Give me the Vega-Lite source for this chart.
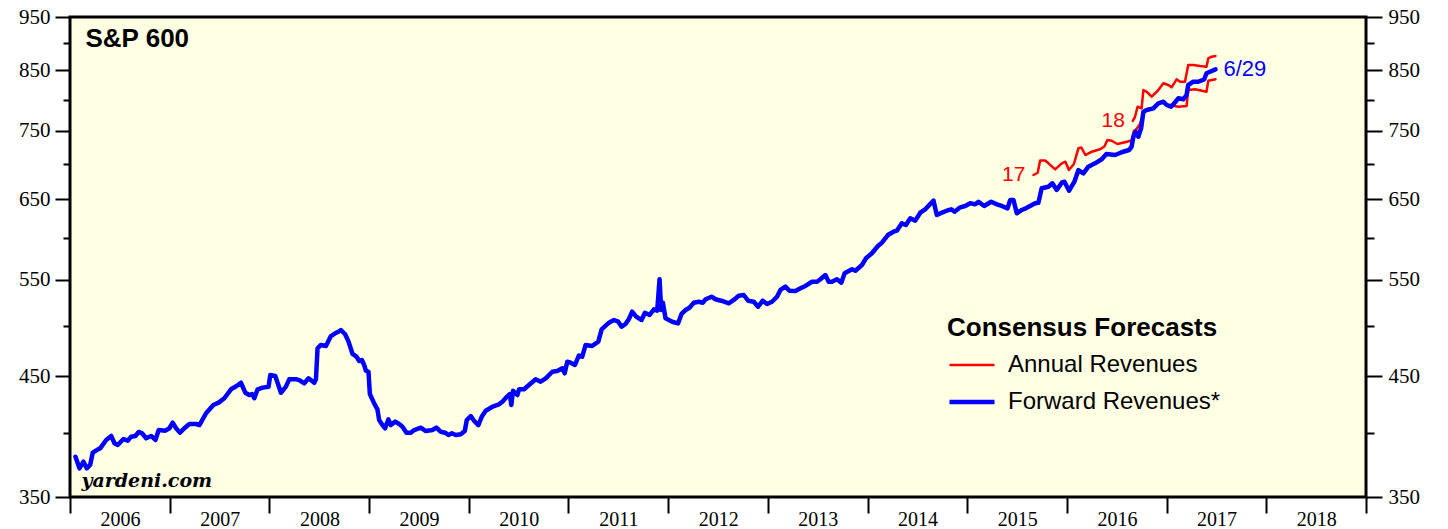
{
  "$schema": "https://vega.github.io/schema/vega-lite/v6.json",
  "width": 1296,
  "height": 480,
  "autosize": "none",
  "padding": {"left": 70, "top": 17, "right": 82, "bottom": 32},
  "background": "white",
  "datasets": {
    "forward": [
      {"series":"Forward Revenues*","t":2006.055,"v":380.6},{"series":"Forward Revenues*","t":2006.095,"v":371.5},{"series":"Forward Revenues*","t":2006.135,"v":376.7},{"series":"Forward Revenues*","t":2006.168,"v":371.5},{"series":"Forward Revenues*","t":2006.202,"v":374.1},{"series":"Forward Revenues*","t":2006.228,"v":383.8},{"series":"Forward Revenues*","t":2006.269,"v":385.9},{"series":"Forward Revenues*","t":2006.303,"v":387.3},{"series":"Forward Revenues*","t":2006.363,"v":394.1},{"series":"Forward Revenues*","t":2006.413,"v":397.4},{"series":"Forward Revenues*","t":2006.446,"v":391.4},{"series":"Forward Revenues*","t":2006.479,"v":390.0},{"series":"Forward Revenues*","t":2006.536,"v":394.9},{"series":"Forward Revenues*","t":2006.579,"v":393.5},{"series":"Forward Revenues*","t":2006.613,"v":396.8},{"series":"Forward Revenues*","t":2006.656,"v":397.4},{"series":"Forward Revenues*","t":2006.689,"v":400.7},{"series":"Forward Revenues*","t":2006.723,"v":399.6},{"series":"Forward Revenues*","t":2006.764,"v":395.5},{"series":"Forward Revenues*","t":2006.814,"v":397.4},{"series":"Forward Revenues*","t":2006.857,"v":394.1},{"series":"Forward Revenues*","t":2006.890,"v":402.3},{"series":"Forward Revenues*","t":2006.957,"v":401.8},{"series":"Forward Revenues*","t":2006.997,"v":403.8},
      {"series":"Forward Revenues*","t":2007.030,"v":408.5},{"series":"Forward Revenues*","t":2007.064,"v":403.8},{"series":"Forward Revenues*","t":2007.104,"v":400.1},{"series":"Forward Revenues*","t":2007.147,"v":403.8},{"series":"Forward Revenues*","t":2007.197,"v":407.4},{"series":"Forward Revenues*","t":2007.265,"v":407.4},{"series":"Forward Revenues*","t":2007.298,"v":406.5},{"series":"Forward Revenues*","t":2007.365,"v":416.6},{"series":"Forward Revenues*","t":2007.438,"v":423.8},{"series":"Forward Revenues*","t":2007.491,"v":425.9},{"series":"Forward Revenues*","t":2007.548,"v":429.8},{"series":"Forward Revenues*","t":2007.615,"v":437.9},{"series":"Forward Revenues*","t":2007.671,"v":440.9},{"series":"Forward Revenues*","t":2007.715,"v":443.9},{"series":"Forward Revenues*","t":2007.758,"v":434.8},{"series":"Forward Revenues*","t":2007.799,"v":432.7},{"series":"Forward Revenues*","t":2007.826,"v":433.6},{"series":"Forward Revenues*","t":2007.849,"v":429.8},{"series":"Forward Revenues*","t":2007.882,"v":437.9},{"series":"Forward Revenues*","t":2007.932,"v":439.4},{"series":"Forward Revenues*","t":2007.992,"v":440.3},
      {"series":"Forward Revenues*","t":2008.009,"v":451.1},{"series":"Forward Revenues*","t":2008.059,"v":450.2},{"series":"Forward Revenues*","t":2008.116,"v":434.8},{"series":"Forward Revenues*","t":2008.166,"v":440.3},{"series":"Forward Revenues*","t":2008.199,"v":447.1},{"series":"Forward Revenues*","t":2008.273,"v":447.1},{"series":"Forward Revenues*","t":2008.300,"v":446.4},{"series":"Forward Revenues*","t":2008.350,"v":443.4},{"series":"Forward Revenues*","t":2008.393,"v":448.0},{"series":"Forward Revenues*","t":2008.450,"v":443.9},{"series":"Forward Revenues*","t":2008.467,"v":447.1},{"series":"Forward Revenues*","t":2008.483,"v":476.9},{"series":"Forward Revenues*","t":2008.517,"v":480.2},{"series":"Forward Revenues*","t":2008.567,"v":479.2},{"series":"Forward Revenues*","t":2008.617,"v":489.2},{"series":"Forward Revenues*","t":2008.660,"v":492.0},{"series":"Forward Revenues*","t":2008.693,"v":493.6},{"series":"Forward Revenues*","t":2008.717,"v":495.4},{"series":"Forward Revenues*","t":2008.760,"v":491.0},{"series":"Forward Revenues*","t":2008.794,"v":483.5},{"series":"Forward Revenues*","t":2008.834,"v":471.3},{"series":"Forward Revenues*","t":2008.874,"v":468.6},{"series":"Forward Revenues*","t":2008.901,"v":464.4},{"series":"Forward Revenues*","t":2008.928,"v":465.4},{"series":"Forward Revenues*","t":2008.951,"v":460.6},{"series":"Forward Revenues*","t":2008.968,"v":455.2},{"series":"Forward Revenues*","t":2008.994,"v":454.2},
      {"series":"Forward Revenues*","t":2009.008,"v":433.6},{"series":"Forward Revenues*","t":2009.051,"v":425.3},{"series":"Forward Revenues*","t":2009.084,"v":420.0},{"series":"Forward Revenues*","t":2009.101,"v":410.8},{"series":"Forward Revenues*","t":2009.134,"v":406.5},{"series":"Forward Revenues*","t":2009.161,"v":403.8},{"series":"Forward Revenues*","t":2009.194,"v":411.4},{"series":"Forward Revenues*","t":2009.218,"v":406.5},{"series":"Forward Revenues*","t":2009.262,"v":409.4},{"series":"Forward Revenues*","t":2009.302,"v":407.4},{"series":"Forward Revenues*","t":2009.335,"v":405.1},{"series":"Forward Revenues*","t":2009.375,"v":400.1},{"series":"Forward Revenues*","t":2009.419,"v":400.1},{"series":"Forward Revenues*","t":2009.452,"v":402.3},{"series":"Forward Revenues*","t":2009.519,"v":404.3},{"series":"Forward Revenues*","t":2009.569,"v":401.5},{"series":"Forward Revenues*","t":2009.635,"v":402.3},{"series":"Forward Revenues*","t":2009.675,"v":404.3},{"series":"Forward Revenues*","t":2009.719,"v":400.9},{"series":"Forward Revenues*","t":2009.763,"v":400.1},{"series":"Forward Revenues*","t":2009.796,"v":398.2},{"series":"Forward Revenues*","t":2009.830,"v":399.6},{"series":"Forward Revenues*","t":2009.870,"v":398.2},{"series":"Forward Revenues*","t":2009.920,"v":398.8},{"series":"Forward Revenues*","t":2009.960,"v":401.5},{"series":"Forward Revenues*","t":2009.980,"v":410.8},
      {"series":"Forward Revenues*","t":2010.020,"v":414.2},{"series":"Forward Revenues*","t":2010.053,"v":410.2},{"series":"Forward Revenues*","t":2010.096,"v":406.5},{"series":"Forward Revenues*","t":2010.130,"v":413.6},{"series":"Forward Revenues*","t":2010.170,"v":418.8},{"series":"Forward Revenues*","t":2010.210,"v":420.9},{"series":"Forward Revenues*","t":2010.253,"v":422.9},{"series":"Forward Revenues*","t":2010.304,"v":424.4},{"series":"Forward Revenues*","t":2010.337,"v":426.7},{"series":"Forward Revenues*","t":2010.377,"v":430.7},{"series":"Forward Revenues*","t":2010.411,"v":433.6},{"series":"Forward Revenues*","t":2010.427,"v":423.8},{"series":"Forward Revenues*","t":2010.444,"v":436.6},{"series":"Forward Revenues*","t":2010.487,"v":432.7},{"series":"Forward Revenues*","t":2010.504,"v":437.9},{"series":"Forward Revenues*","t":2010.554,"v":437.9},{"series":"Forward Revenues*","t":2010.604,"v":441.8},{"series":"Forward Revenues*","t":2010.671,"v":447.1},{"series":"Forward Revenues*","t":2010.721,"v":444.9},{"series":"Forward Revenues*","t":2010.772,"v":448.0},{"series":"Forward Revenues*","t":2010.838,"v":454.2},{"series":"Forward Revenues*","t":2010.888,"v":454.9},{"series":"Forward Revenues*","t":2010.938,"v":457.4},{"series":"Forward Revenues*","t":2010.962,"v":452.7},{"series":"Forward Revenues*","t":2010.988,"v":463.8},
      {"series":"Forward Revenues*","t":2011.022,"v":462.8},{"series":"Forward Revenues*","t":2011.065,"v":460.6},{"series":"Forward Revenues*","t":2011.105,"v":469.8},{"series":"Forward Revenues*","t":2011.138,"v":468.6},{"series":"Forward Revenues*","t":2011.172,"v":480.2},{"series":"Forward Revenues*","t":2011.238,"v":479.2},{"series":"Forward Revenues*","t":2011.299,"v":483.5},{"series":"Forward Revenues*","t":2011.333,"v":496.1},{"series":"Forward Revenues*","t":2011.406,"v":503.0},{"series":"Forward Revenues*","t":2011.456,"v":505.8},{"series":"Forward Revenues*","t":2011.499,"v":504.0},{"series":"Forward Revenues*","t":2011.533,"v":498.8},{"series":"Forward Revenues*","t":2011.573,"v":501.6},{"series":"Forward Revenues*","t":2011.606,"v":506.9},{"series":"Forward Revenues*","t":2011.639,"v":514.6},{"series":"Forward Revenues*","t":2011.679,"v":509.3},{"series":"Forward Revenues*","t":2011.733,"v":505.8},{"series":"Forward Revenues*","t":2011.767,"v":513.5},{"series":"Forward Revenues*","t":2011.814,"v":511.1},{"series":"Forward Revenues*","t":2011.857,"v":517.2},{"series":"Forward Revenues*","t":2011.890,"v":515.7},{"series":"Forward Revenues*","t":2011.914,"v":550.5},{"series":"Forward Revenues*","t":2011.930,"v":516.4},{"series":"Forward Revenues*","t":2011.947,"v":524.3},{"series":"Forward Revenues*","t":2011.974,"v":507.6},
      {"series":"Forward Revenues*","t":2012.040,"v":504.0},{"series":"Forward Revenues*","t":2012.100,"v":502.3},{"series":"Forward Revenues*","t":2012.134,"v":512.2},{"series":"Forward Revenues*","t":2012.174,"v":516.4},{"series":"Forward Revenues*","t":2012.214,"v":518.9},{"series":"Forward Revenues*","t":2012.257,"v":524.3},{"series":"Forward Revenues*","t":2012.307,"v":525.4},{"series":"Forward Revenues*","t":2012.348,"v":524.3},{"series":"Forward Revenues*","t":2012.375,"v":528.1},{"series":"Forward Revenues*","t":2012.435,"v":530.9},{"series":"Forward Revenues*","t":2012.475,"v":528.1},{"series":"Forward Revenues*","t":2012.541,"v":526.2},{"series":"Forward Revenues*","t":2012.608,"v":523.7},{"series":"Forward Revenues*","t":2012.658,"v":527.3},{"series":"Forward Revenues*","t":2012.708,"v":532.0},{"series":"Forward Revenues*","t":2012.758,"v":532.8},{"series":"Forward Revenues*","t":2012.802,"v":526.5},{"series":"Forward Revenues*","t":2012.859,"v":525.4},{"series":"Forward Revenues*","t":2012.902,"v":520.0},{"series":"Forward Revenues*","t":2012.949,"v":526.5},{"series":"Forward Revenues*","t":2012.992,"v":522.9},
      {"series":"Forward Revenues*","t":2013.042,"v":525.4},{"series":"Forward Revenues*","t":2013.092,"v":530.9},{"series":"Forward Revenues*","t":2013.126,"v":538.4},{"series":"Forward Revenues*","t":2013.176,"v":542.1},{"series":"Forward Revenues*","t":2013.216,"v":537.6},{"series":"Forward Revenues*","t":2013.277,"v":537.3},{"series":"Forward Revenues*","t":2013.327,"v":540.3},{"series":"Forward Revenues*","t":2013.377,"v":542.9},{"series":"Forward Revenues*","t":2013.443,"v":547.7},{"series":"Forward Revenues*","t":2013.493,"v":547.7},{"series":"Forward Revenues*","t":2013.527,"v":550.5},{"series":"Forward Revenues*","t":2013.577,"v":555.4},{"series":"Forward Revenues*","t":2013.610,"v":547.7},{"series":"Forward Revenues*","t":2013.643,"v":547.7},{"series":"Forward Revenues*","t":2013.693,"v":550.5},{"series":"Forward Revenues*","t":2013.737,"v":546.6},{"series":"Forward Revenues*","t":2013.770,"v":557.4},{"series":"Forward Revenues*","t":2013.844,"v":562.1},{"series":"Forward Revenues*","t":2013.878,"v":560.4},{"series":"Forward Revenues*","t":2013.944,"v":567.1},{"series":"Forward Revenues*","t":2013.984,"v":575.1},
      {"series":"Forward Revenues*","t":2014.044,"v":581.1},{"series":"Forward Revenues*","t":2014.104,"v":590.0},{"series":"Forward Revenues*","t":2014.144,"v":594.0},{"series":"Forward Revenues*","t":2014.204,"v":603.6},{"series":"Forward Revenues*","t":2014.261,"v":607.8},{"series":"Forward Revenues*","t":2014.294,"v":609.1},{"series":"Forward Revenues*","t":2014.344,"v":618.5},{"series":"Forward Revenues*","t":2014.385,"v":616.3},{"series":"Forward Revenues*","t":2014.429,"v":625.0},{"series":"Forward Revenues*","t":2014.479,"v":621.9},{"series":"Forward Revenues*","t":2014.529,"v":632.3},{"series":"Forward Revenues*","t":2014.579,"v":636.8},{"series":"Forward Revenues*","t":2014.662,"v":648.3},{"series":"Forward Revenues*","t":2014.695,"v":629.3},{"series":"Forward Revenues*","t":2014.745,"v":632.3},{"series":"Forward Revenues*","t":2014.795,"v":634.9},{"series":"Forward Revenues*","t":2014.840,"v":636.8},{"series":"Forward Revenues*","t":2014.873,"v":633.6},{"series":"Forward Revenues*","t":2014.930,"v":639.4},{"series":"Forward Revenues*","t":2014.980,"v":641.2},
      {"series":"Forward Revenues*","t":2015.030,"v":644.8},{"series":"Forward Revenues*","t":2015.080,"v":643.4},{"series":"Forward Revenues*","t":2015.113,"v":646.9},{"series":"Forward Revenues*","t":2015.170,"v":641.2},{"series":"Forward Revenues*","t":2015.240,"v":646.9},{"series":"Forward Revenues*","t":2015.296,"v":643.4},{"series":"Forward Revenues*","t":2015.347,"v":641.2},{"series":"Forward Revenues*","t":2015.404,"v":638.1},{"series":"Forward Revenues*","t":2015.431,"v":649.2},{"series":"Forward Revenues*","t":2015.464,"v":649.2},{"series":"Forward Revenues*","t":2015.497,"v":631.5},{"series":"Forward Revenues*","t":2015.547,"v":635.9},{"series":"Forward Revenues*","t":2015.587,"v":638.1},{"series":"Forward Revenues*","t":2015.631,"v":641.2},{"series":"Forward Revenues*","t":2015.681,"v":644.8},{"series":"Forward Revenues*","t":2015.714,"v":645.6},{"series":"Forward Revenues*","t":2015.747,"v":665.2},{"series":"Forward Revenues*","t":2015.814,"v":667.4},{"series":"Forward Revenues*","t":2015.854,"v":672.2},{"series":"Forward Revenues*","t":2015.898,"v":662.9},{"series":"Forward Revenues*","t":2015.948,"v":673.0},{"series":"Forward Revenues*","t":2015.975,"v":674.4},
      {"series":"Forward Revenues*","t":2016.022,"v":661.9},{"series":"Forward Revenues*","t":2016.075,"v":674.4},{"series":"Forward Revenues*","t":2016.115,"v":691.0},{"series":"Forward Revenues*","t":2016.165,"v":686.3},{"series":"Forward Revenues*","t":2016.215,"v":695.8},{"series":"Forward Revenues*","t":2016.282,"v":700.7},{"series":"Forward Revenues*","t":2016.349,"v":706.6},{"series":"Forward Revenues*","t":2016.396,"v":714.4},{"series":"Forward Revenues*","t":2016.483,"v":712.9},{"series":"Forward Revenues*","t":2016.556,"v":717.4},{"series":"Forward Revenues*","t":2016.623,"v":720.4},{"series":"Forward Revenues*","t":2016.649,"v":725.3},{"series":"Forward Revenues*","t":2016.666,"v":740.1},{"series":"Forward Revenues*","t":2016.689,"v":748.3},{"series":"Forward Revenues*","t":2016.716,"v":740.6},{"series":"Forward Revenues*","t":2016.744,"v":753.6},{"series":"Forward Revenues*","t":2016.767,"v":780.1},{"series":"Forward Revenues*","t":2016.800,"v":782.9},{"series":"Forward Revenues*","t":2016.867,"v":785.6},{"series":"Forward Revenues*","t":2016.917,"v":793.9},{"series":"Forward Revenues*","t":2016.967,"v":796.5},
      {"series":"Forward Revenues*","t":2017.000,"v":791.1},{"series":"Forward Revenues*","t":2017.044,"v":788.3},{"series":"Forward Revenues*","t":2017.090,"v":796.5},{"series":"Forward Revenues*","t":2017.117,"v":802.2},{"series":"Forward Revenues*","t":2017.167,"v":800.5},{"series":"Forward Revenues*","t":2017.200,"v":807.7},{"series":"Forward Revenues*","t":2017.217,"v":824.7},{"series":"Forward Revenues*","t":2017.267,"v":830.3},{"series":"Forward Revenues*","t":2017.317,"v":830.3},{"series":"Forward Revenues*","t":2017.377,"v":834.5},{"series":"Forward Revenues*","t":2017.400,"v":845.0},{"series":"Forward Revenues*","t":2017.435,"v":847.8},{"series":"Forward Revenues*","t":2017.490,"v":852.0}
    ],
    "annual": [
      {"series":"Annual Revenues","year":"17","t":2015.664,"v":683.9},{"series":"Annual Revenues","year":"17","t":2015.707,"v":687.1},{"series":"Annual Revenues","year":"17","t":2015.731,"v":704.8},{"series":"Annual Revenues","year":"17","t":2015.782,"v":704.8},{"series":"Annual Revenues","year":"17","t":2015.815,"v":700.7},{"series":"Annual Revenues","year":"17","t":2015.882,"v":692.0},{"series":"Annual Revenues","year":"17","t":2015.948,"v":700.7},{"series":"Annual Revenues","year":"17","t":2015.985,"v":703.1},{"series":"Annual Revenues","year":"17","t":2016.020,"v":691.0},{"series":"Annual Revenues","year":"17","t":2016.070,"v":699.7},{"series":"Annual Revenues","year":"17","t":2016.115,"v":722.9},{"series":"Annual Revenues","year":"17","t":2016.145,"v":724.1},{"series":"Annual Revenues","year":"17","t":2016.185,"v":712.9},{"series":"Annual Revenues","year":"17","t":2016.249,"v":717.8},{"series":"Annual Revenues","year":"17","t":2016.333,"v":721.4},{"series":"Annual Revenues","year":"17","t":2016.376,"v":725.6},{"series":"Annual Revenues","year":"17","t":2016.406,"v":735.5},{"series":"Annual Revenues","year":"17","t":2016.449,"v":734.4},{"series":"Annual Revenues","year":"17","t":2016.506,"v":729.4},{"series":"Annual Revenues","year":"17","t":2016.583,"v":732.2},{"series":"Annual Revenues","year":"17","t":2016.649,"v":734.7},{"series":"Annual Revenues","year":"17","t":2016.671,"v":749.4},{"series":"Annual Revenues","year":"17","t":2016.699,"v":752.5},{"series":"Annual Revenues","year":"17","t":2016.733,"v":760.4},{"series":"Annual Revenues","year":"17","t":2016.756,"v":772.0},{"series":"Annual Revenues","year":"17","t":2016.784,"v":782.1},{"series":"Annual Revenues","year":"17","t":2016.867,"v":785.6},{"series":"Annual Revenues","year":"17","t":2016.917,"v":793.9},{"series":"Annual Revenues","year":"17","t":2016.967,"v":796.5},{"series":"Annual Revenues","year":"17","t":2017.000,"v":791.1},{"series":"Annual Revenues","year":"17","t":2017.034,"v":791.1},{"series":"Annual Revenues","year":"17","t":2017.117,"v":788.3},{"series":"Annual Revenues","year":"17","t":2017.200,"v":789.4},{"series":"Annual Revenues","year":"17","t":2017.217,"v":816.1},{"series":"Annual Revenues","year":"17","t":2017.285,"v":817.3},{"series":"Annual Revenues","year":"17","t":2017.400,"v":813.2},{"series":"Annual Revenues","year":"17","t":2017.418,"v":832.1},{"series":"Annual Revenues","year":"17","t":2017.490,"v":834.5},
      {"series":"Annual Revenues","year":"18","t":2016.661,"v":765.2},{"series":"Annual Revenues","year":"18","t":2016.681,"v":770.8},{"series":"Annual Revenues","year":"18","t":2016.709,"v":788.3},{"series":"Annual Revenues","year":"18","t":2016.749,"v":785.6},{"series":"Annual Revenues","year":"18","t":2016.767,"v":816.1},{"series":"Annual Revenues","year":"18","t":2016.800,"v":813.2},{"series":"Annual Revenues","year":"18","t":2016.850,"v":804.8},{"series":"Annual Revenues","year":"18","t":2016.917,"v":816.1},{"series":"Annual Revenues","year":"18","t":2016.967,"v":827.6},{"series":"Annual Revenues","year":"18","t":2017.017,"v":824.7},{"series":"Annual Revenues","year":"18","t":2017.050,"v":820.7},{"series":"Annual Revenues","year":"18","t":2017.100,"v":834.5},{"series":"Annual Revenues","year":"18","t":2017.134,"v":830.3},{"series":"Annual Revenues","year":"18","t":2017.184,"v":830.3},{"series":"Annual Revenues","year":"18","t":2017.217,"v":859.7},{"series":"Annual Revenues","year":"18","t":2017.267,"v":859.7},{"series":"Annual Revenues","year":"18","t":2017.335,"v":857.9},{"series":"Annual Revenues","year":"18","t":2017.400,"v":856.7},{"series":"Annual Revenues","year":"18","t":2017.418,"v":871.8},{"series":"Annual Revenues","year":"18","t":2017.451,"v":874.7},{"series":"Annual Revenues","year":"18","t":2017.490,"v":875.9}
    ]
  },
  "layer": [
    {
      "data": {"name": "annual"},
      "mark": {"type": "line", "strokeJoin": "round", "strokeCap": "round"},
      "encoding": {
        "x": {"field": "t", "type": "quantitative",
              "scale": {"domain": [2006, 2019], "nice": false, "zero": false},
              "axis": {"values": [2006,2007,2008,2009,2010,2011,2012,2013,2014,2015,2016,2017,2018,2019],
                       "labelExpr": "datum.value < 2019 ? format(datum.value, 'd') : ''",
                       "labelOffset": 50, "labelFlush": false, "labelOverlap": false, "labelBound": false,
                       "tickSize": 16, "tickWidth": 2, "tickColor": "black",
                       "labelPadding": -4, "labelFont": "Liberation Serif", "labelFontSize": 20, "labelColor": "black",
                       "domain": false, "grid": false, "title": null}},
        "y": {"field": "v", "type": "quantitative",
              "scale": {"type": "log", "domain": [350, 950], "nice": false, "zero": false},
              "axis": {"orient": "left", "values": [350,400,450,500,550,600,650,700,750,800,850,900,950],
                       "labelExpr": "datum.value % 100 == 50 ? format(datum.value, 'd') : ''",
                       "tickSize": {"condition": {"test": "datum.value % 100 == 50", "value": 15}, "value": 7},
                       "tickWidth": 2, "tickColor": "black", "labelPadding": 5,
                       "labelFont": "Liberation Serif", "labelFontSize": 21, "labelColor": "black",
                       "labelOverlap": false, "labelFlush": false, "labelBound": false,
                       "domain": false, "grid": false, "title": null}},
        "color": {"field": "series", "type": "nominal",
                  "scale": {"domain": ["Annual Revenues", "Forward Revenues*"], "range": ["#FF0000", "#0000FF"]},
                  "legend": {"title": "Consensus Forecasts"}},
        "strokeWidth": {"field": "series", "type": "nominal",
                  "scale": {"domain": ["Annual Revenues", "Forward Revenues*"], "range": [2.5, 4.5]},
                  "legend": {"title": "Consensus Forecasts"}},
        "detail": {"field": "year"}
      }
    },
    {
      "data": {"name": "forward"},
      "mark": {"type": "line", "strokeJoin": "round", "strokeCap": "round"},
      "encoding": {
        "x": {"field": "t", "type": "quantitative"},
        "y": {"field": "v", "type": "quantitative",
              "axis": {"orient": "right", "values": [350,400,450,500,550,600,650,700,750,800,850,900,950],
                       "labelExpr": "datum.value % 100 == 50 ? format(datum.value, 'd') : ''",
                       "tickSize": {"condition": {"test": "datum.value % 100 == 50", "value": 16}, "value": 8},
                       "tickWidth": 2, "tickColor": "black", "labelPadding": 6,
                       "labelFont": "Liberation Serif", "labelFontSize": 21, "labelColor": "black",
                       "labelOverlap": false, "labelFlush": false, "labelBound": false,
                       "domain": false, "grid": false, "title": null}},
        "color": {"field": "series", "type": "nominal", "legend": {"title": "Consensus Forecasts"}},
        "strokeWidth": {"field": "series", "type": "nominal", "legend": {"title": "Consensus Forecasts"}}
      }
    },
    {
      "data": {"name": "annual"},
      "transform": [{"aggregate": [{"op": "argmin", "field": "t", "as": "first"}], "groupby": ["year"]}],
      "mark": {"type": "text", "align": "right", "baseline": "middle", "dx": -8, "font": "Liberation Sans", "fontSize": 21, "color": "#FF0000"},
      "encoding": {
        "x": {"field": "first.t", "type": "quantitative"},
        "y": {"field": "first.v", "type": "quantitative", "axis": null},
        "text": {"field": "year"}
      }
    },
    {
      "data": {"name": "forward"},
      "transform": [{"aggregate": [{"op": "argmax", "field": "t", "as": "last"}]}],
      "mark": {"type": "text", "align": "left", "baseline": "middle", "dx": 8, "font": "Liberation Sans", "fontSize": 22, "color": "#0000FF"},
      "encoding": {
        "x": {"field": "last.t", "type": "quantitative"},
        "y": {"field": "last.v", "type": "quantitative", "axis": null},
        "text": {"value": "6/29"}
      }
    },
    {
      "data": {"values": [{}]},
      "mark": {"type": "text", "align": "left", "baseline": "alphabetic", "font": "Liberation Sans", "fontSize": 26, "fontWeight": "bold", "color": "black"},
      "encoding": {
        "x": {"datum": 2006.155, "type": "quantitative"},
        "y": {"datum": 892.5, "type": "quantitative", "axis": null},
        "text": {"value": "S&P 600"}
      }
    },
    {
      "data": {"values": [{}]},
      "mark": {"type": "text", "align": "left", "baseline": "alphabetic", "font": "DejaVu Serif", "fontSize": 19, "fontStyle": "italic", "fontWeight": "bold", "color": "black"},
      "encoding": {
        "x": {"datum": 2006.115, "type": "quantitative"},
        "y": {"datum": 357.1, "type": "quantitative", "axis": null},
        "text": {"value": "yardeni.com"}
      }
    }
  ],
  "resolve": {"axis": {"y": "independent"}},
  "config": {
    "view": {"fill": "#FFFFE4", "stroke": "black", "strokeWidth": 3},
    "legend": {
      "orient": "none",
      "legendX": 877,
      "legendY": 298,
      "padding": 0,
      "titleFont": "Liberation Sans",
      "titleFontSize": 26,
      "titleFontWeight": "bold",
      "titleColor": "black",
      "titlePadding": 0,
      "titleLimit": 400,
      "labelFont": "Liberation Sans",
      "labelFontSize": 24,
      "labelColor": "black",
      "labelLimit": 400,
      "labelOffset": 11,
      "symbolType": "stroke",
      "symbolSize": 2025,
      "rowPadding": 0
    }
  }
}
